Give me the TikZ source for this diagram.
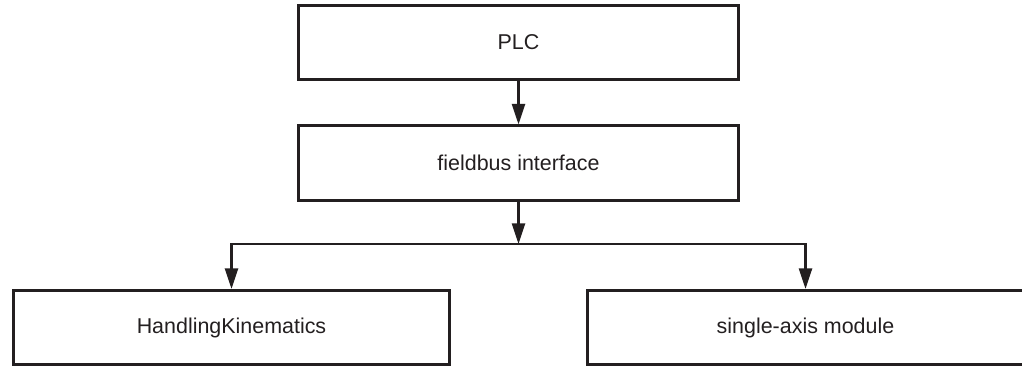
\documentclass[tikz,border=0pt]{standalone}
\usepackage{fontspec}
\setmainfont{Liberation Sans}
\usetikzlibrary{arrows.meta}
\usetikzlibrary{positioning}

\definecolor{ink}{RGB}{35,31,32}

\begin{document}
\begin{tikzpicture}[x=0.03cm, y=-0.03cm,
        block/.style={draw=ink, line width=0.09cm, minimum width=13.2cm, minimum height=2.22cm, inner sep=0pt, text=ink, font=\fontsize{18.3}{22}\selectfont},
        wideblock/.style={block, minimum width=13.08cm},
        link/.style={draw=ink, line width=0.08cm, -{Triangle[length=0.62cm 0 0, width=0.39cm 0 0]}}]
                \useasboundingbox(0, 0) rectangle (1022, 367);
                \node[block](plc) at (518.5, 42.5){PLC};
                \node[block](bus) at (518.5, 163){fieldbus interface};
                \node[wideblock](kin) at (231.5, 327.5){HandlingKinematics};
                \node[wideblock](axis) at (805.5, 327.5){single-axis module};
                \coordinate(split) at (518.5, 244);

                \draw[link](plc)--(bus);
                \draw[link](bus)--(split);
                \draw[link](split)-|(kin.north);
                \draw[link](split)-|(axis.north);
            \end{tikzpicture}
\end{document}
